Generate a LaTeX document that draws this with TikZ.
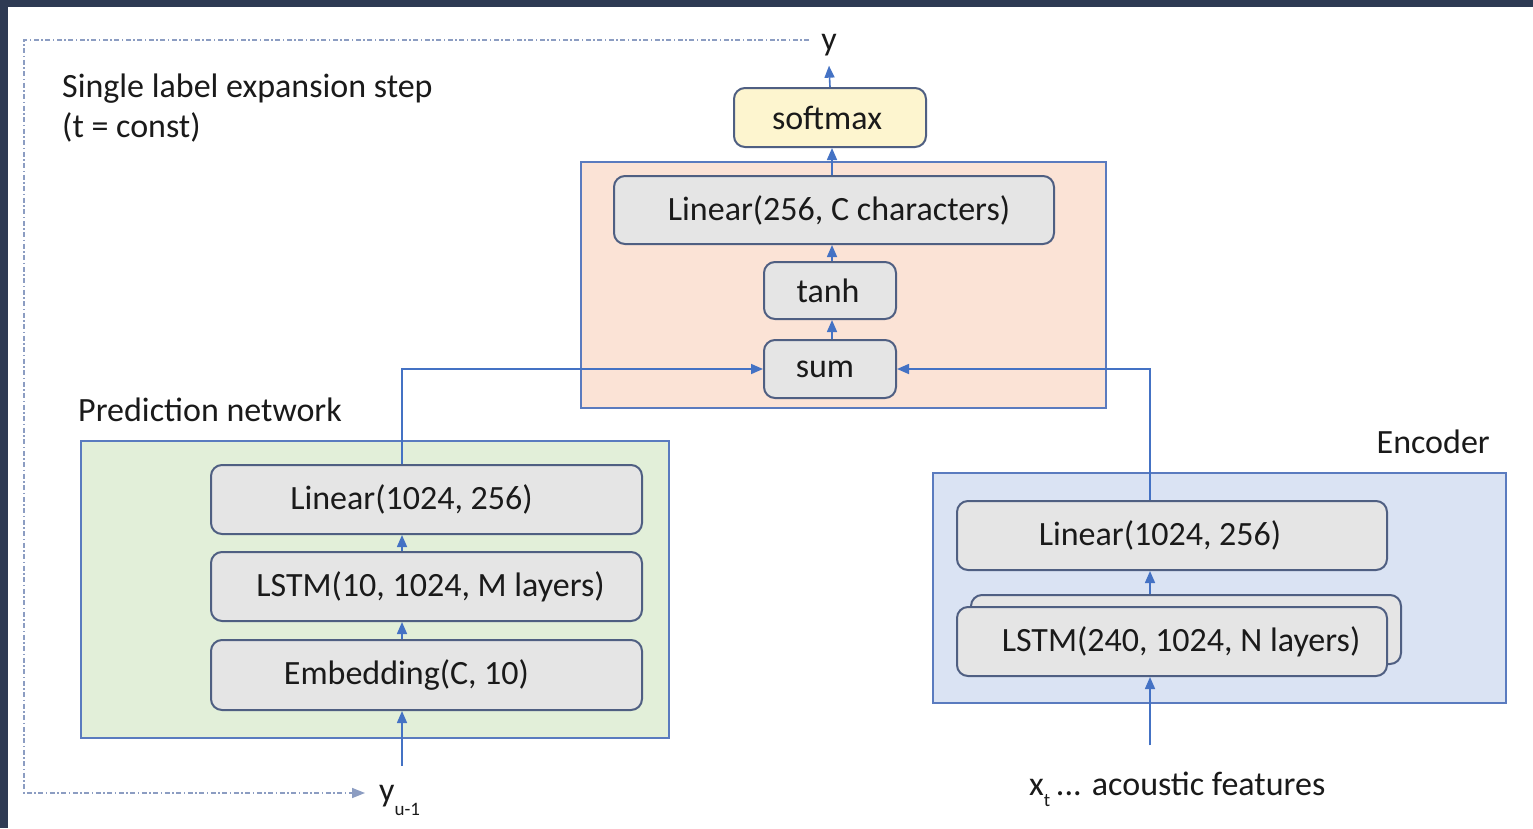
\documentclass[tikz,border=0pt]{standalone}
\usepackage{fontspec}
\setmainfont{Carlito}
\usetikzlibrary{arrows.meta,calc}

\definecolor{frame}{HTML}{2E3A53}
\definecolor{conn}{HTML}{4472C4}
\definecolor{outline}{HTML}{5A7BBF}
\definecolor{nodeline}{HTML}{4F5F82}
\definecolor{nodefill}{HTML}{E5E5E5}
\definecolor{jointfill}{HTML}{FBE3D6}
\definecolor{predfill}{HTML}{E2EFD9}
\definecolor{encfill}{HTML}{DAE3F3}
\definecolor{smfill}{HTML}{FDF5CF}
\definecolor{loopcol}{HTML}{8C9DC2}
\definecolor{ink}{HTML}{1A1A1A}

% shift a node's text sideways by #1 (negative = left) while the box stays put
\newcommand{\nudge}[2]{\ifdim#1<0pt\hspace*{2\dimexpr#1\relax}#2\else#2\hspace*{-2\dimexpr#1\relax}\fi}

\tikzset{
  group/.style={draw=outline, line width=2pt, rectangle, inner sep=0pt},
  layer/.style={draw=nodeline, fill=nodefill, line width=2pt, rounded corners=11pt,
                inner sep=0pt, text=ink},
  arr/.style={draw=conn, line width=1.6pt, -{Triangle[length=12pt,width=10pt]}},
  feed/.style={draw=loopcol, line width=1.6pt,
               dash pattern=on 5pt off 2.5pt on 1.5pt off 2.5pt,
               -{Triangle[length=13pt,width=10pt]}},
  caption/.style={text=ink, inner sep=0pt}
}

\begin{document}
\begin{tikzpicture}[x=1pt, y=-1pt, font=\fontsize{34}{40}\selectfont]
  % page and frame
  \fill[frame] (0,0) rectangle (1533,828);
  \fill[white] (8,7) rectangle (1533,828);

  % column guides for the vertical connectors
  \coordinate (pcol) at (402,0);
  \coordinate (ecol) at (1150,0);
  \coordinate (jcol) at (832,0);
  \coordinate (lt) at (24,40);
  \coordinate (lb) at (24,793);

  % group boxes
  \node[group, fill=jointfill, minimum width=525pt, minimum height=246pt] (jbox) at (843.5,285) {};
  \node[group, fill=predfill, minimum width=588pt, minimum height=297pt] (pbox) at (375,589.5) {};
  \node[group, fill=encfill, minimum width=573pt, minimum height=230pt] (ebox) at (1219.5,588) {};

  % labels
  \node[caption, anchor=base west, align=left] (title) at (62,137)
    {Single label expansion step\\(t = const)};
  \node[caption, anchor=base west] (plabel) at (78,421) {Prediction network};
  \node[caption, anchor=base east] (elabel) at (1490,453) {Encoder};
  \node[caption, anchor=base] (yout) at (829,50) {y};
  \node[caption, anchor=base west] (yin) at (379,801)
    {y\raisebox{-14pt}{\fontsize{19}{20}\selectfont u-1}};
  \node[caption, anchor=base west] (xin) at (1029,795)
    {x\raisebox{-11pt}{\fontsize{19}{20}\selectfont t}\,... acoustic features};

  % joint network
  \node[layer, fill=smfill, minimum width=192pt, minimum height=59pt] (sm) at (830,117.5) {\nudge{-3pt}{softmax}};
  \node[layer, minimum width=440pt, minimum height=68pt] (jlin) at (834,210) {\nudge{5pt}{Linear(256, C characters)}};
  \node[layer, minimum width=132pt, minimum height=57pt] (tanh) at (830,290.5) {\nudge{-2pt}{tanh}};
  \node[layer, minimum width=132pt, minimum height=58pt] (sum) at (830,369) {\nudge{-5pt}{sum}};

  % prediction network
  \node[layer, minimum width=431pt, minimum height=69pt] (plin) at (426.5,499.5) {\nudge{-15pt}{Linear(1024, 256)}};
  \node[layer, minimum width=431pt, minimum height=69pt] (plstm) at (426.5,586.5) {\nudge{4pt}{LSTM(10, 1024, M layers)}};
  \node[layer, minimum width=431pt, minimum height=70pt] (pemb) at (426.5,675) {\nudge{-20pt}{Embedding(C, 10)}};

  % encoder
  \node[layer, minimum width=430pt, minimum height=69pt] (elin) at (1172,535.5) {\nudge{-12pt}{Linear(1024, 256)}};
  \node[layer, minimum width=430pt, minimum height=69pt] (elstmb) at (1186,629.5) {};
  \node[layer, minimum width=430pt, minimum height=69pt] (elstm) at (1172,641.5) {\nudge{9pt}{LSTM(240, 1024, N layers)}};

  % helper points for the free connector ends
  \coordinate (youtend) at ($(yout.south)+(0,10)$);
  \coordinate (pstart) at ($(yin.north -| pcol)+(0,-19)$);
  \coordinate (estart) at ($(xin.north -| ecol)+(0,-26)$);
  \coordinate (fstart) at ($(yout.west)+(-12,0)$);
  \coordinate (fend) at ($(yin.west)+(-14,0)$);

  % connectors inside the joint network
  \draw[arr] (jlin.north -| jcol) -- (sm.south -| jcol);
  \draw[arr] (tanh.north -| jcol) -- (jlin.south -| jcol);
  \draw[arr] (sum.north -| jcol) -- (tanh.south -| jcol);
  \draw[arr] (sm.north) -- (youtend);

  % prediction network flow
  \draw[arr] (pstart) -- (pemb.south -| pcol);
  \draw[arr] (pemb.north -| pcol) -- (plstm.south -| pcol);
  \draw[arr] (plstm.north -| pcol) -- (plin.south -| pcol);
  \draw[arr] (plin.north -| pcol) |- (sum.west);

  % encoder flow
  \draw[arr] (estart) -- (elstm.south -| ecol);
  \draw[arr] (elstmb.north -| ecol) -- (elin.south -| ecol);
  \draw[arr] (elin.north -| ecol) |- (sum.east);

  % label feedback loop
  \draw[feed] (fstart |- lt) -- (lt) -- (lb) -- (fend |- lb);
\end{tikzpicture}
\end{document}
